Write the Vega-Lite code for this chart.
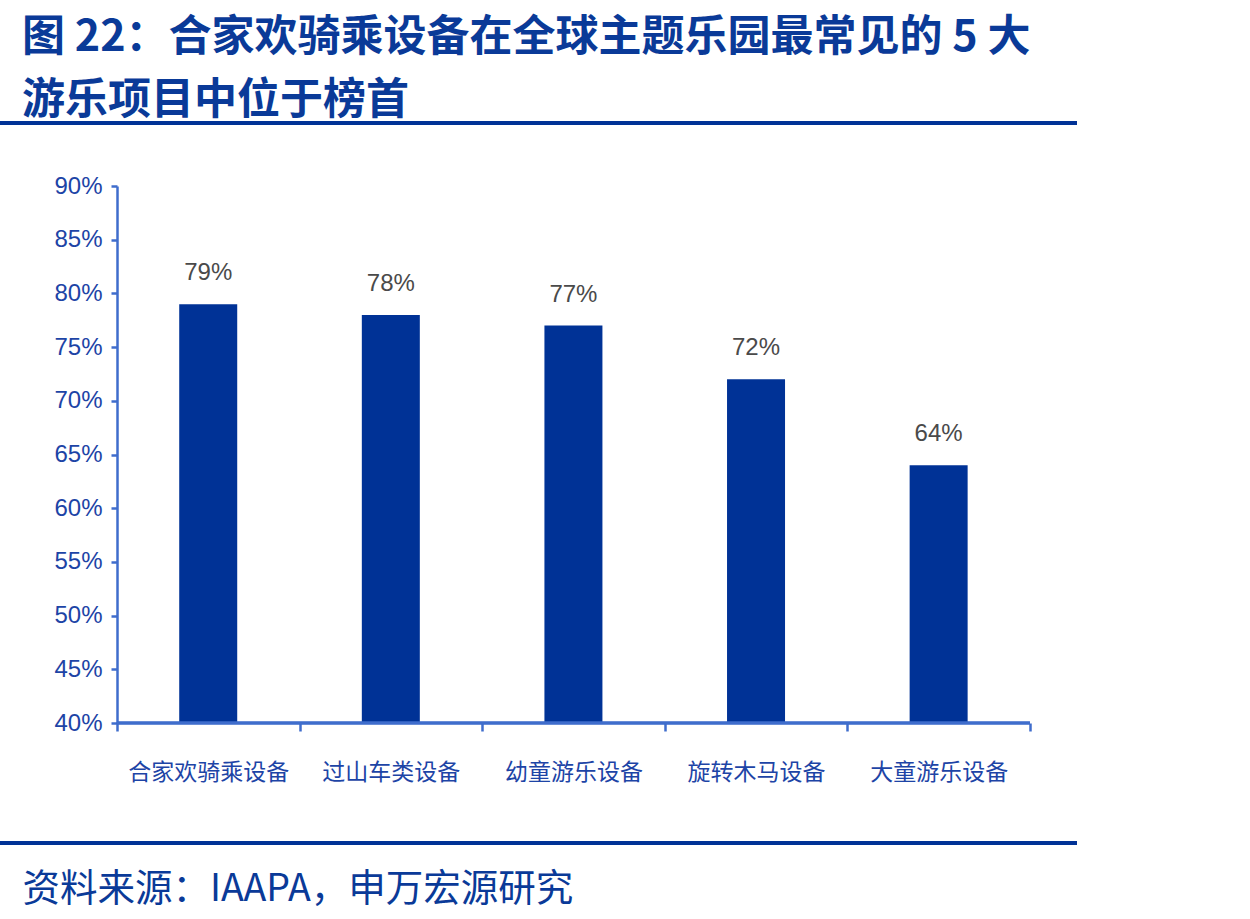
{
  "$schema": "https://vega.github.io/schema/vega-lite/v6.json",
  "autosize": {"type": "none"},
  "width": 1077,
  "height": 537,
  "padding": {"left": 0, "top": 186, "right": 173, "bottom": 196},
  "background": "white",
  "config": {"view": {"stroke": null}},
  "title": {
    "text": ["图 22：合家欢骑乘设备在全球主题乐园最常见的 5 大", "游乐项目中位于榜首"],
    "anchor": "start",
    "frame": "group",
    "dx": 22,
    "offset": -2,
    "font": "Noto Sans CJK SC",
    "fontWeight": "bold",
    "fontSize": 43,
    "lineHeight": 63,
    "color": "#0a3a98"
  },
  "data": {"values": [
    {"item": "合家欢骑乘设备", "share": 0.79},
    {"item": "过山车类设备", "share": 0.78},
    {"item": "幼童游乐设备", "share": 0.77},
    {"item": "旋转木马设备", "share": 0.72},
    {"item": "大童游乐设备", "share": 0.64}
  ]},
  "layer": [
    {
      "mark": {"type": "bar", "color": "#003296", "size": 58, "clip": false},
      "encoding": {
        "x": {
          "field": "item", "type": "nominal", "sort": null,
          "scale": {"paddingInner": 0, "paddingOuter": 0.449, "align": 0.713},
          "axis": {
            "domain": false,
            "tickBand": "extent",
            "tickColor": "#3f6dcc",
            "tickWidth": 2.5,
            "tickSize": 8,
            "labelAngle": 0,
            "labelFont": "Noto Sans CJK SC",
            "labelFontSize": 23,
            "labelColor": "#1d44a6",
            "labelPadding": 30,
            "title": "资料来源：IAAPA，申万宏源研究",
            "titleFont": "Noto Sans CJK SC",
            "titleFontWeight": "normal",
            "titleFontSize": 37.5,
            "titleColor": "#0a3a98",
            "titleAlign": "left",
            "titleAnchor": "start",
            "titleBaseline": "alphabetic",
            "titleX": 22,
            "titleY": 177
          }
        },
        "y": {
          "field": "share", "type": "quantitative",
          "scale": {"domain": [0.4, 0.9], "zero": false, "nice": false},
          "axis": {
            "offset": -117,
            "values": [0.4, 0.45, 0.5, 0.55, 0.6, 0.65, 0.7, 0.75, 0.8, 0.85, 0.9],
            "format": ".0%",
            "grid": false,
            "domainColor": "#3f6dcc",
            "domainWidth": 2.5,
            "tickColor": "#3f6dcc",
            "tickWidth": 2.5,
            "tickSize": 6,
            "labelFont": "Liberation Sans",
            "labelFontSize": 24,
            "labelColor": "#1d44a6",
            "labelPadding": 9,
            "title": null
          }
        },
        "y2": {"datum": 0.4}
      }
    },
    {
      "mark": {"type": "text", "baseline": "alphabetic", "dy": -24, "font": "Liberation Sans", "fontSize": 24, "color": "#4a4a4a"},
      "encoding": {
        "x": {"field": "item", "type": "nominal", "sort": null},
        "y": {"field": "share", "type": "quantitative"},
        "text": {"field": "share", "type": "quantitative", "format": ".0%"}
      }
    },
    {
      "mark": {"type": "rule", "color": "#3f6dcc", "strokeWidth": 2.5, "clip": false},
      "encoding": {
        "x": {"datum": "合家欢骑乘设备", "bandPosition": 0},
        "x2": {"datum": "大童游乐设备", "bandPosition": 1},
        "y": {"datum": 0.4}
      }
    },
    {
      "mark": {"type": "rule", "color": "#003296", "strokeWidth": 4, "clip": false},
      "encoding": {"y": {"datum": 0.9587}}
    },
    {
      "mark": {"type": "rule", "color": "#003296", "strokeWidth": 4, "clip": false},
      "encoding": {"y": {"datum": 0.2883}}
    }
  ]
}
